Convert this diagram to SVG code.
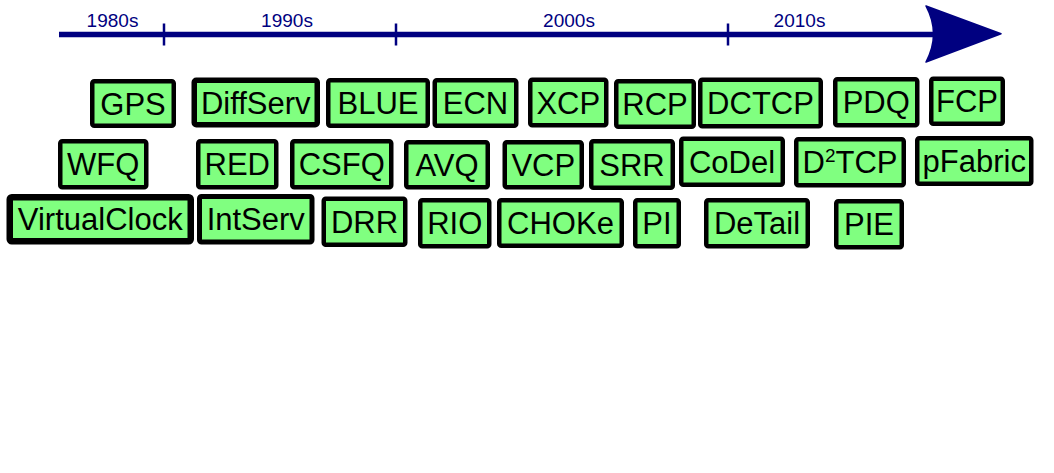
<svg xmlns="http://www.w3.org/2000/svg" width="1054" height="473" viewBox="0 0 1054 473">
<style>
.b rect{fill:#80FF80;stroke:#000;stroke-width:4.5;stroke-linejoin:round}
.b text{font-family:"Liberation Sans",Arial,sans-serif;font-size:31px;fill:#000;text-anchor:middle}
.yr{font-family:"Liberation Sans",Arial,sans-serif;font-size:19px;fill:#000080;text-anchor:middle}
</style>
<rect width="1054" height="473" fill="#fff"/>
<g id="timeline">
<line x1="59" y1="34.5" x2="935" y2="34.5" stroke="#000080" stroke-width="5.5"/>
<line x1="164" y1="23.5" x2="164" y2="45.5" stroke="#000080" stroke-width="2.5"/>
<line x1="396" y1="23.5" x2="396" y2="45.5" stroke="#000080" stroke-width="2.5"/>
<line x1="728" y1="23.5" x2="728" y2="45.5" stroke="#000080" stroke-width="2.5"/>
<path d="M926,6 L1001,33.8 L926,62 Q941,34 926,6 Z" fill="#000080" stroke="#000080" stroke-width="1.5" stroke-linejoin="round"/>
<text class="yr" x="112.5" y="26.5">1980s</text>
<text class="yr" x="287" y="26.5">1990s</text>
<text class="yr" x="569" y="26.5">2000s</text>
<text class="yr" x="799.5" y="26.5">2010s</text>
</g>
<g class="b">
<g id="GPS"><rect x="92.25" y="81.25" width="81.5" height="44.5" rx="2"/><text x="133" y="114.5">GPS</text></g>
<g id="DiffServ"><rect x="194.25" y="80.25" width="123" height="44.5" rx="2" style="stroke-width:5.5"/><text x="255.75" y="113.5">DiffServ</text></g>
<g id="BLUE"><rect x="328.25" y="80.25" width="99.5" height="45.5" rx="2"/><text x="378" y="114">BLUE</text></g>
<g id="ECN"><rect x="434.75" y="80.25" width="81.5" height="45.5" rx="2"/><text x="475.5" y="114">ECN</text></g>
<g id="XCP"><rect x="530.25" y="79.75" width="76" height="45.5" rx="2"/><text x="568.25" y="113.5">XCP</text></g>
<g id="RCP"><rect x="616.25" y="81.25" width="77.5" height="45.5" rx="2"/><text x="655" y="115">RCP</text></g>
<g id="DCTCP"><rect x="700.25" y="79.75" width="120.5" height="46.5" rx="2"/><text x="760.5" y="114">DCTCP</text></g>
<g id="PDQ"><rect x="835.25" y="79.25" width="82" height="46" rx="2"/><text x="876.25" y="113.25">PDQ</text></g>
<g id="FCP"><rect x="931.25" y="78.75" width="71.5" height="45" rx="2"/><text x="967" y="112.25">FCP</text></g>
<g id="WFQ"><rect x="60.25" y="141.25" width="86" height="46" rx="2"/><text x="103.25" y="175.25">WFQ</text></g>
<g id="RED"><rect x="198.25" y="141.25" width="78" height="46" rx="2"/><text x="237.25" y="175.25">RED</text></g>
<g id="CSFQ"><rect x="292.25" y="141.25" width="99" height="46" rx="2"/><text x="341.75" y="175.25">CSFQ</text></g>
<g id="AVQ"><rect x="406.25" y="142.25" width="81.5" height="45" rx="2"/><text x="447" y="175.75">AVQ</text></g>
<g id="VCP"><rect x="504.75" y="142.25" width="77" height="45" rx="2"/><text x="543.25" y="175.75">VCP</text></g>
<g id="SRR"><rect x="591.25" y="141.25" width="81.5" height="46.5" rx="2"/><text x="632" y="175.5">SRR</text></g>
<g id="CoDel"><rect x="681.25" y="138.75" width="101.5" height="46" rx="2"/><text x="732" y="172.75">CoDel</text></g>
<g id="D2TCP"><rect x="796.25" y="139.25" width="107.5" height="46" rx="2"/><text x="850" y="173.25">D<tspan font-size="19" dy="-11">2</tspan><tspan dy="11">TCP</tspan></text></g>
<g id="pFabric"><rect x="917.25" y="138.25" width="114" height="45.5" rx="2"/><text x="974.25" y="172">pFabric</text></g>
<g id="VirtualClock"><rect x="9.75" y="197.25" width="181" height="44" rx="2" style="stroke-width:6.5"/><text x="100.25" y="230.25">VirtualClock</text></g>
<g id="IntServ"><rect x="199.5" y="196.5" width="112.5" height="45.5" rx="2" style="stroke-width:5"/><text x="255.75" y="230.25">IntServ</text></g>
<g id="DRR"><rect x="323.75" y="198.75" width="81.5" height="46" rx="2"/><text x="364.5" y="232.75">DRR</text></g>
<g id="RIO"><rect x="420.25" y="200.25" width="69" height="46" rx="2"/><text x="454.75" y="234.25">RIO</text></g>
<g id="CHOKe"><rect x="499.25" y="200.25" width="122.5" height="45.5" rx="2"/><text x="560.5" y="234">CHOKe</text></g>
<g id="PI"><rect x="635.25" y="200.25" width="43.5" height="46" rx="2"/><text x="657" y="234.25">PI</text></g>
<g id="DeTail"><rect x="706.25" y="200.25" width="101.5" height="46" rx="2"/><text x="757" y="234.25">DeTail</text></g>
<g id="PIE"><rect x="836.25" y="201.25" width="65.5" height="46" rx="2"/><text x="869" y="235.25">PIE</text></g>
</g>
</svg>
